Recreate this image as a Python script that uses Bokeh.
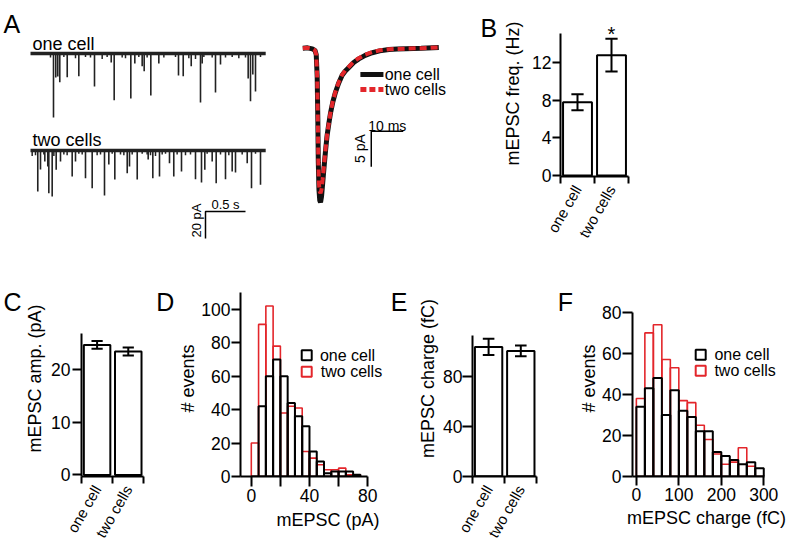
import numpy as np
from math import pi
from bokeh.plotting import figure
from bokeh.layouts import row, column
from bokeh.models import Range1d, FixedTicker, Label
from bokeh.embed import file_html
from bokeh.resources import INLINE

FONT = "Liberation Sans"
RED = "#e3262b"

# ---------------- data ----------------
groups = ["one cell", "two cells"]

# Panel A: example recordings (event time in s, amplitude in pA)
trace_duration = 2.94
one_evt_t = [0.2875, 0.316, 0.341, 0.366, 0.459, 0.604, 0.800, 1.009, 1.046, 1.254, 1.304,
             1.396, 1.421, 1.504, 1.604, 1.850, 1.909, 2.009, 2.125, 2.146, 2.3125, 2.375,
             2.721, 2.750, 2.779, 2.8125]
one_evt_a = [47.4, 17.8, 17.0, 21.3, 17.6, 16.8, 24.4, 6.7, 34.6, 33.3, 7.4,
             9.4, 13.1, 31.1, 7.4, 16.3, 16.8, 9.4, 36.3, 7.4, 28.9, 8.1,
             18.5, 35.3, 15.6, 28.1]
one_small_t = [0.25, 0.417, 0.5625, 0.6875, 0.75, 0.896, 0.958, 1.146, 1.1875, 1.354, 1.458,
               1.667, 1.8125, 1.979, 2.0625, 2.167, 2.271, 2.4375, 2.521, 2.604, 2.6875, 2.875]
one_small_a = [3, 2.5, 3.5, 2.5, 3, 4, 2.5, 3, 3.5, 2.5, 3,
               3, 2.5, 3.5, 4, 2.5, 3, 3, 2.5, 3.5, 3, 2.5]

two_evt_t = [0.091, 0.125, 0.179, 0.216, 0.229, 0.271, 0.321, 0.375, 0.521, 0.5625, 0.6875,
             0.771, 0.925, 0.979, 1.054, 1.209, 1.2375, 1.334, 1.471, 1.529, 1.6125, 1.7375,
             1.791, 1.8875, 2.0625, 2.1375, 2.179, 2.271, 2.321, 2.4375, 2.521, 2.5625, 2.709,
             2.7625, 2.875]
two_evt_a = [30.4, 14.1, 8.1, 11.9, 31.6, 34.1, 14.3, 8.1, 19.3, 8.1, 20.5,
             27.9, 33.3, 10.4, 21.5, 16.8, 11.9, 21.5, 6.7, 20.5, 19.3, 9.4,
             19.3, 15.6, 21.3, 23.7, 14.3, 8.1, 24.2, 21.3, 15.6, 16.3, 9.4,
             27.9, 25.4]
two_small_t = [0.021, 0.0625, 0.167, 0.292, 0.417, 0.458, 0.604, 0.646, 0.833, 0.875, 1.021,
               1.125, 1.167, 1.271, 1.396, 1.458, 1.5, 1.5625, 1.646, 1.6875, 1.833, 1.9375,
               2.0, 2.208, 2.375, 2.479, 2.646, 2.8125]
two_small_a = [4, 3.5, 3, 4, 3, 3.5, 2.5, 3, 3.5, 3, 2.5,
               3, 3.5, 3, 2.5, 3, 3.5, 4, 3, 2.5, 3, 3.5,
               3, 2.5, 3, 3.5, 3, 2.5]

# Panel A: averaged mEPSC (time ms, current pA)
avg_t = [0, 1.5, 3.0, 3.8, 4.2, 4.5, 4.7, 4.85, 5.05, 5.3, 5.55, 5.85, 6.2, 6.6, 7.1, 7.6,
         8.2, 8.7, 9.4, 10.2, 11.2, 12.3, 13.3, 14.4, 15.9, 17.5, 19.5, 21.7, 24.0, 26.9,
         29.5, 32.1, 37.0, 42.5]
avg_one = [0, 0.05, -0.1, -0.3, -0.9, -4, -10, -16, -19.8, -21.3, -21.6, -20.8, -19.0, -16.9,
           -14.4, -12.2, -10.4, -9.0, -7.5, -6.2, -4.9, -3.8, -3.2, -2.7, -2.0, -1.5, -1.0,
           -0.64, -0.38, -0.18, -0.12, -0.08, -0.02, 0.1]
avg_two = [0, 0.05, -0.1, -0.3, -0.9, -4, -10, -15.5, -19.0, -20.1, -20.3, -19.8, -18.4, -16.6,
           -14.2, -12.1, -10.3, -8.9, -7.4, -6.1, -4.8, -3.7, -3.1, -2.6, -1.9, -1.4, -0.9,
           -0.55, -0.3, -0.15, -0.1, -0.06, 0.0, 0.1]

# Panel B: frequency (Hz)
freq_mean = [7.8, 12.8]
freq_sem = [0.85, 1.75]
# Panel C: amplitude (pA)
amp_mean = [24.75, 23.5]
amp_sem = [0.75, 0.75]
# Panel E: charge (fC)
charge_mean = [104.0, 100.8]
charge_sem = [6.6, 4.4]

# Panel D: amplitude histogram (bins of 5 pA from 0)
amp_bin_width = 5
amp_one_counts = [0, 42, 60, 70, 60, 44, 36, 30, 15, 9, 2, 3, 3, 3, 1]
amp_two_counts = [20, 91, 102, 78, 38, 42, 41, 15, 11, 7, 4, 4, 5, 1, 1]

# Panel F: charge histogram (bins of 20 fC from 0)
chg_bin_width = 20
chg_one_counts = [34, 43, 48, 30, 42, 32, 29, 22, 22, 12, 10, 8, 6, 7, 4]
chg_two_counts = [38, 70, 74, 57, 53, 37, 36, 25, 18, 11, 6, 7, 14, 5, 0]

two_trace_offset = -71.85  # vertical offset of the second example trace (pA)


# ---------------- helpers ----------------
def make_fig(width, height, xr, yr, left=0, right=0, top=0, bottom=0, axes=True):
    kw = dict(width=width, height=height, x_range=Range1d(*xr), y_range=Range1d(*yr),
              output_backend="svg", toolbar_location=None,
              min_border_left=left, min_border_right=right,
              min_border_top=top, min_border_bottom=bottom)
    if not axes:
        kw.update(x_axis_location=None, y_axis_location=None)
    p = figure(**kw)
    p.outline_line_color = None
    p.grid.visible = False
    p.background_fill_color = "white"
    p.border_fill_color = "white"
    return p


def style_axis(ax, tick_out, lab_standoff, axlab_standoff, size="17.5px", bounds=None):
    ax.axis_line_width = 2
    ax.axis_line_color = "black"
    ax.major_tick_line_width = 2
    ax.major_tick_line_color = "black"
    ax.major_tick_out = tick_out
    ax.major_tick_in = 0
    ax.minor_tick_line_color = None
    ax.major_label_text_font = FONT
    ax.major_label_text_font_size = size
    ax.major_label_text_color = "black"
    ax.major_label_standoff = lab_standoff
    ax.axis_label_text_font = FONT
    ax.axis_label_text_font_size = "18px"
    ax.axis_label_text_font_style = "normal"
    ax.axis_label_text_color = "black"
    ax.axis_label_standoff = axlab_standoff
    if bounds is not None:
        ax.bounds = bounds


def style_cat_x(p):
    ax = p.xaxis[0]
    style_axis(ax, 0, 3, 0, size="15px", bounds=(0, 2))
    ax.ticker = FixedTicker(ticks=[0.5, 1.5], minor_ticks=[0, 1, 2])
    ax.major_label_overrides = {0.5: groups[0], 1.5: groups[1]}
    ax.major_label_orientation = pi / 3
    ax.minor_tick_line_color = "black"
    ax.minor_tick_line_width = 2
    ax.minor_tick_out = 7
    ax.minor_tick_in = 0


def text(p, s, x, y, size="18px", align="left", baseline="alphabetic", angle=0.0):
    p.add_layout(Label(x=x, y=y, text=s, text_font=FONT, text_font_size=size,
                       text_align=align, text_baseline=baseline, angle=angle,
                       text_color="black"))


def bar_panel(p, means, sems):
    xs = [0.5, 1.5]
    p.vbar(x=xs, top=means, bottom=0, width=0.85, fill_color="white",
           line_color="black", line_width=2)
    lo = [m - s for m, s in zip(means, sems)]
    hi = [m + s for m, s in zip(means, sems)]
    p.segment(x0=xs, y0=lo, x1=xs, y1=hi, line_color="black", line_width=2)
    cap = 0.18
    p.segment(x0=[x - cap for x in xs], y0=hi, x1=[x + cap for x in xs], y1=hi,
              line_color="black", line_width=2)
    p.segment(x0=[x - cap for x in xs], y0=lo, x1=[x + cap for x in xs], y1=lo,
              line_color="black", line_width=2)


def hist_panel(p, width, one_counts, two_counts):
    n = len(one_counts)
    left = [i * width for i in range(n)]
    right = [(i + 1) * width for i in range(n)]
    p.quad(left=left, right=right, top=two_counts, bottom=0, fill_color=None,
           line_color=RED, line_width=1.6)
    p.quad(left=left, right=right, top=one_counts, bottom=0, fill_color=None,
           line_color="black", line_width=2)


# ---------------- Panel A: example traces ----------------
pA1 = make_fig(290, 280, (-0.375, 3.25), (-168.15, 39.26), axes=False)
for off, et, ea, st, sa in [(0.0, one_evt_t, one_evt_a, one_small_t, one_small_a),
                            (two_trace_offset, two_evt_t, two_evt_a, two_small_t, two_small_a)]:
    pA1.segment(x0=st, y0=[off] * len(st), x1=st, y1=[off - a for a in sa],
                line_color="#222222", line_width=1.5)
    pA1.segment(x0=et, y0=[off] * len(et), x1=et, y1=[off - a for a in ea],
                line_color="#222222", line_width=1.6)
    pA1.line([0, trace_duration], [off, off], line_color="#222222", line_width=3.5)
text(pA1, "A", -0.3375, 22.2, size="25px")
text(pA1, groups[0], 0.025, 7.2, size="18px")
text(pA1, groups[1], 0.025, -64.4, size="18px")
# scale bar 0.5 s / 20 pA
pA1.line([2.6875, 2.1875, 2.1875], [-117.0, -117.0, -137.0], line_color="black", line_width=1.5)
text(pA1, "0.5 s", 2.4375, -111.9, size="13px", align="center")
text(pA1, "20 pA", 2.075, -123.7, size="13px", align="center", baseline="middle", angle=pi / 2)

# ---------------- Panel A: averaged event (+ letter B) ----------------
pA2 = make_fig(210, 280, (-3.84, 61.78), (-32.54, 6.68), axes=False)
pA2.line(avg_t, avg_one, line_color="#111111", line_width=5)
pA2.line(avg_t, avg_two, line_color=RED, line_width=4, line_dash="7 4")
pA2.line([18.0, 25.2], [-3.68, -3.68], line_color="#111111", line_width=5)
pA2.line([18.0, 25.2], [-5.78, -5.78], line_color=RED, line_width=5, line_dash="6 3")
text(pA2, groups[0], 25.6, -3.68, size="16px", baseline="middle")
text(pA2, groups[1], 25.6, -5.78, size="16px", baseline="middle")
pA2.line([31.4, 21.4, 21.4], [-11.62, -11.62, -16.62], line_color="black", line_width=1.5)
text(pA2, "10 ms", 26.4, -10.83, size="14px", align="center")
text(pA2, "5 pA", 18.0, -14.05, size="14px", align="center", baseline="middle", angle=pi / 2)
text(pA2, "B", 55.53, 2.76, size="25px")

# ---------------- Panel B ----------------
pB = make_fig(291, 280, (0, 2), (-0.106, 17.55), left=58, right=163, top=10, bottom=104)
bar_panel(pB, freq_mean, freq_sem)
style_axis(pB.yaxis[0], 8, 1, 6, bounds=(-0.106, 15.07))
pB.yaxis[0].ticker = FixedTicker(ticks=[0, 4, 8, 12])
pB.yaxis[0].axis_label = "mEPSC freq. (Hz)"
style_cat_x(pB)
text(pB, "*", 1.5, 15.01, size="20px", align="center")

# ---------------- bottom row ----------------
sC = make_fig(22, 267, (0, 1), (0, 1), top=0, bottom=70, axes=False)
text(sC, "C", 3 / 22, 0.888, size="25px")

pC = make_fig(153, 267, (0, 3.015), (-0.3, 37.01), left=55, right=0, top=0, bottom=70)
bar_panel(pC, amp_mean, amp_sem)
style_axis(pC.yaxis[0], 9, 2, 3, bounds=(-0.3, 26.97))
pC.yaxis[0].ticker = FixedTicker(ticks=[0, 10, 20])
pC.yaxis[0].axis_label = "mEPSC amp. (pA)"
style_cat_x(pC)
text(pC, "D", 2.4, 32.84, size="25px")

pD = make_fig(240, 267, (-7.43, 112.9), (0, 117.26), left=57, right=0, top=0, bottom=70)
hist_panel(pD, amp_bin_width, amp_one_counts, amp_two_counts)
style_axis(pD.yaxis[0], 9, 1, 0, bounds=(0, 110))
pD.yaxis[0].ticker = FixedTicker(ticks=[0, 20, 40, 60, 80, 100])
pD.yaxis[0].axis_label = "# events"
style_axis(pD.xaxis[0], 10, 2, 5, bounds=(-7.43, 80.2))
pD.xaxis[0].ticker = FixedTicker(ticks=[0, 20, 40, 60, 80])
pD.xaxis[0].major_label_overrides = {20: "", 60: ""}
pD.xaxis[0].axis_label = "mEPSC (pA)"
pD.scatter([38.1], [72.6], marker="square", size=10, fill_color="white", line_color="black", line_width=2)
pD.scatter([38.1], [62.7], marker="square", size=10, fill_color="white", line_color=RED, line_width=2)
text(pD, groups[0], 47.2, 72.6, size="16px", baseline="middle")
text(pD, groups[1], 47.8, 62.7, size="16px", baseline="middle")
text(pD, "E", 95.8, 104.2, size="25px")

pE = make_fig(161, 267, (0, 3.23), (-0.2, 157.4), left=56, right=0, top=0, bottom=70)
bar_panel(pE, charge_mean, charge_sem)
style_axis(pE.yaxis[0], 10, 0, 2, bounds=(-0.2, 113.4))
pE.yaxis[0].ticker = FixedTicker(ticks=[0, 40, 80])
pE.yaxis[0].axis_label = "mEPSC charge (fC)"
style_cat_x(pE)
text(pE, "F", 2.65, 139.8, size="25px")

pF = make_fig(215, 267, (-9.11, 339.4), (0, 95.54), left=51, right=11, top=0, bottom=70)
hist_panel(pF, chg_bin_width, chg_one_counts, chg_two_counts)
style_axis(pF.yaxis[0], 10, 1, 0, bounds=(0, 80))
pF.yaxis[0].ticker = FixedTicker(ticks=[0, 20, 40, 60, 80])
pF.yaxis[0].axis_label = "# events"
style_axis(pF.xaxis[0], 9, 2, 4, bounds=(-9.11, 300.7))
pF.xaxis[0].ticker = FixedTicker(ticks=[0, 100, 200, 300])
pF.xaxis[0].axis_label = "mEPSC charge (fC)"
pF.scatter([151.5], [59.3], marker="square", size=10, fill_color="white", line_color="black", line_width=2)
pF.scatter([151.5], [51.6], marker="square", size=10, fill_color="white", line_color=RED, line_width=2)
text(pF, groups[0], 183.8, 59.3, size="16px", baseline="middle")
text(pF, groups[1], 183.8, 51.6, size="16px", baseline="middle")

top_row = row(column(pA1), column(pA2), column(pB), spacing=0)
bottom_row = row(sC, pC, pD, pE, pF, spacing=0)
layout = column(top_row, bottom_row, spacing=0)

open("out.html", "w").write(file_html(layout, INLINE))
